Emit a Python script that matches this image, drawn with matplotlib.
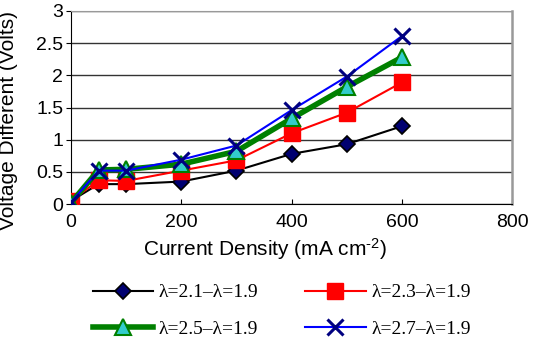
import matplotlib
matplotlib.use("Agg")
import matplotlib.pyplot as plt

# current density (mA cm-2)
current = [0, 50, 100, 200, 300, 400, 500, 600]

v_21 = [0.05, 0.31, 0.31, 0.35, 0.52, 0.78, 0.93, 1.21]
v_23 = [0.05, 0.37, 0.36, 0.52, 0.68, 1.10, 1.42, 1.89]
v_25 = [0.02, 0.53, 0.54, 0.62, 0.82, 1.33, 1.82, 2.28]
v_27 = [0.03, 0.52, 0.52, 0.69, 0.91, 1.46, 1.98, 2.61]

labels = ["λ=2.1–λ=1.9", "λ=2.3–λ=1.9", "λ=2.5–λ=1.9", "λ=2.7–λ=1.9"]

plt.rcParams['font.family'] = ['Liberation Sans', 'DejaVu Sans']
plt.rcParams['mathtext.fontset'] = 'custom'
plt.rcParams['mathtext.rm'] = 'Liberation Sans'
plt.rcParams['mathtext.default'] = 'regular'

fig = plt.figure(figsize=(5.42, 3.43), dpi=100)
ax = fig.add_axes([0.131, 0.405, 0.814, 0.563])

l1, = ax.plot(current, v_21, color='black', lw=1.5, marker='D', ms=8,
              mfc='#000070', mec='black', mew=1.2, zorder=3)
l2, = ax.plot(current, v_23, color='red', lw=1.5, marker='s', ms=12,
              mfc='red', mec='red', zorder=4)
l3, = ax.plot(current, v_25, color='green', lw=4, marker='^', ms=12,
              mfc='#33cccc', mec='green', mew=1.5, zorder=5)
l4, = ax.plot(current, v_27, color='blue', lw=1.5, marker='x', ms=12,
              mec='#000080', mew=2.2, zorder=6)

ax.set_xlim(0, 800)
ax.set_ylim(0, 3)
ax.set_xticks([0, 200, 400, 600, 800])
ax.set_yticks([0, 0.5, 1, 1.5, 2, 2.5, 3])
ax.set_yticklabels(['0', '0.5', '1', '1.5', '2', '2.5', '3'])
ax.grid(axis='y', color='#333333', lw=1.0)
ax.set_axisbelow(True)

ax.spines['left'].set_color('black')
ax.spines['bottom'].set_color('black')
ax.spines['top'].set_color('#999999')
ax.spines['right'].set_color('#999999')
ax.spines['right'].set_linewidth(1.8)
ax.tick_params(axis='x', direction='in', labelsize=14, pad=7)
ax.tick_params(axis='y', direction='out', labelsize=14, pad=2)

ax.set_xlabel(r'Current Density (mA cm$^{\text{-2}}$)', fontsize=15)
ax.set_ylabel('Voltage Different (Volts)', fontsize=15)
ax.xaxis.set_label_coords(0.44, -0.165)
ax.yaxis.set_label_coords(-0.12, 0.435)

# row-major order for the two-column legend
fig.legend([l1, l3, l2, l4], [labels[0], labels[2], labels[1], labels[3]],
           loc='lower center', bbox_to_anchor=(0.52, -0.035), ncol=2,
           frameon=False, prop={'family': 'Liberation Serif', 'size': 14},
           handlelength=3.1, columnspacing=2.4, labelspacing=0.95,
           handletextpad=0.3)

fig.savefig('out.png', dpi=100)
